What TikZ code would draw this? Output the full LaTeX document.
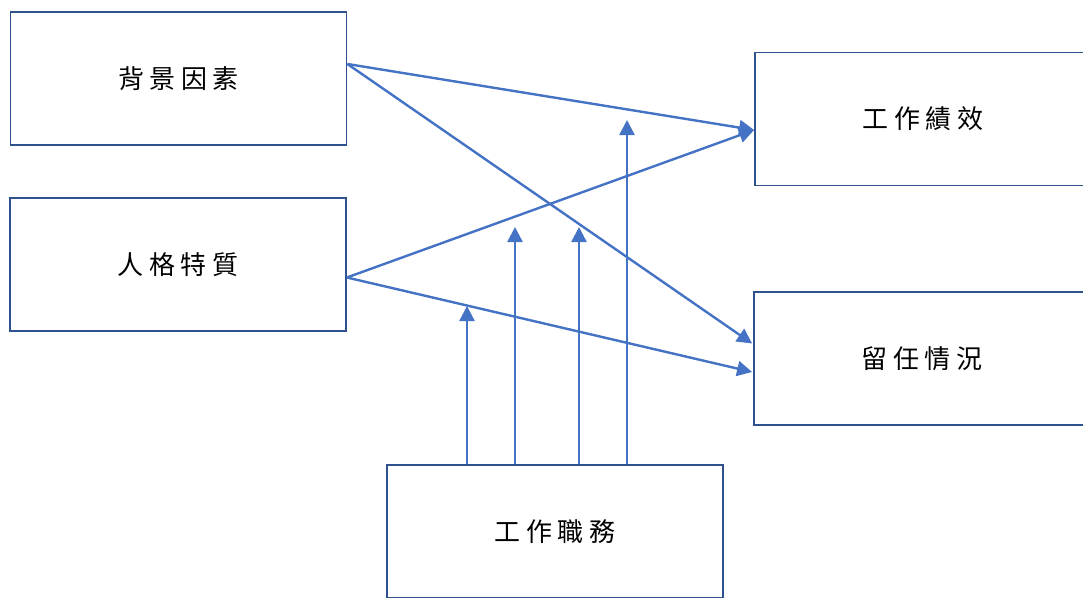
\documentclass[tikz,border=0pt]{standalone}
\usepackage{fontspec}
\usetikzlibrary{arrows.meta,calc}
\newfontfamily\cjk{Noto Sans CJK TC}
\definecolor{boxline}{HTML}{2F528F}
\definecolor{arrowblue}{HTML}{4472C4}
\newcommand{\gapk}{\kern5.5pt}
\begin{document}
\begin{tikzpicture}[x=1pt,y=-1pt,
  box/.style={draw=boxline,line width=1.8pt,fill=white,minimum width=336pt,
              minimum height=133pt,inner sep=0pt,font=\cjk\fontsize{26}{26}\selectfont},
  link/.style={draw=arrowblue,line width=2.4pt,
               -{Triangle[length=15pt,width=15pt]}}]
\useasboundingbox (0,0) rectangle (1083,597);
\clip (0,0) rectangle (1083,597);
% factor boxes
\node[box] (bg)   at (178.5,78.5) {背\gapk 景\gapk 因\gapk 素};
\node[box] (pers) at (178,264.5)  {人\gapk 格\gapk 特\gapk 質};
\node[box] (perf) at (923,119)    {工\gapk 作\gapk 績\gapk 效};
\node[box] (ret)  at (922,358.5)  {留\gapk 任\gapk 情\gapk 況};
\node[box] (job)  at (555,531.5)  {工\gapk 作\gapk 職\gapk 務};
% attachment points on the box edges
\coordinate (bgout)   at ([yshift=14.5pt]bg.east);
\coordinate (persout) at ([yshift=-13pt]pers.east);
\coordinate (perfin)  at ([yshift=-11pt]perf.west);
\coordinate (retinA)  at ([xshift=-1pt,yshift=15pt]ret.west);
\coordinate (retinB)  at ([xshift=-1pt,yshift=-13.5pt]ret.west);
% moderating arrows from the job box
\coordinate (m1) at (467,306);
\coordinate (m2) at (515,227);
\coordinate (m3) at (579,227);
\coordinate (m4) at (627,120);
% direct effects
\draw[link] (bgout) -- (perfin);
\draw[link] (bgout) -- (retinA);
\draw[link] (persout) -- (perfin);
\draw[link] (persout) -- (retinB);
\foreach \m in {m1,m2,m3,m4}
  \draw[link] (job.north -| \m) -- (\m);
\end{tikzpicture}
\end{document}
